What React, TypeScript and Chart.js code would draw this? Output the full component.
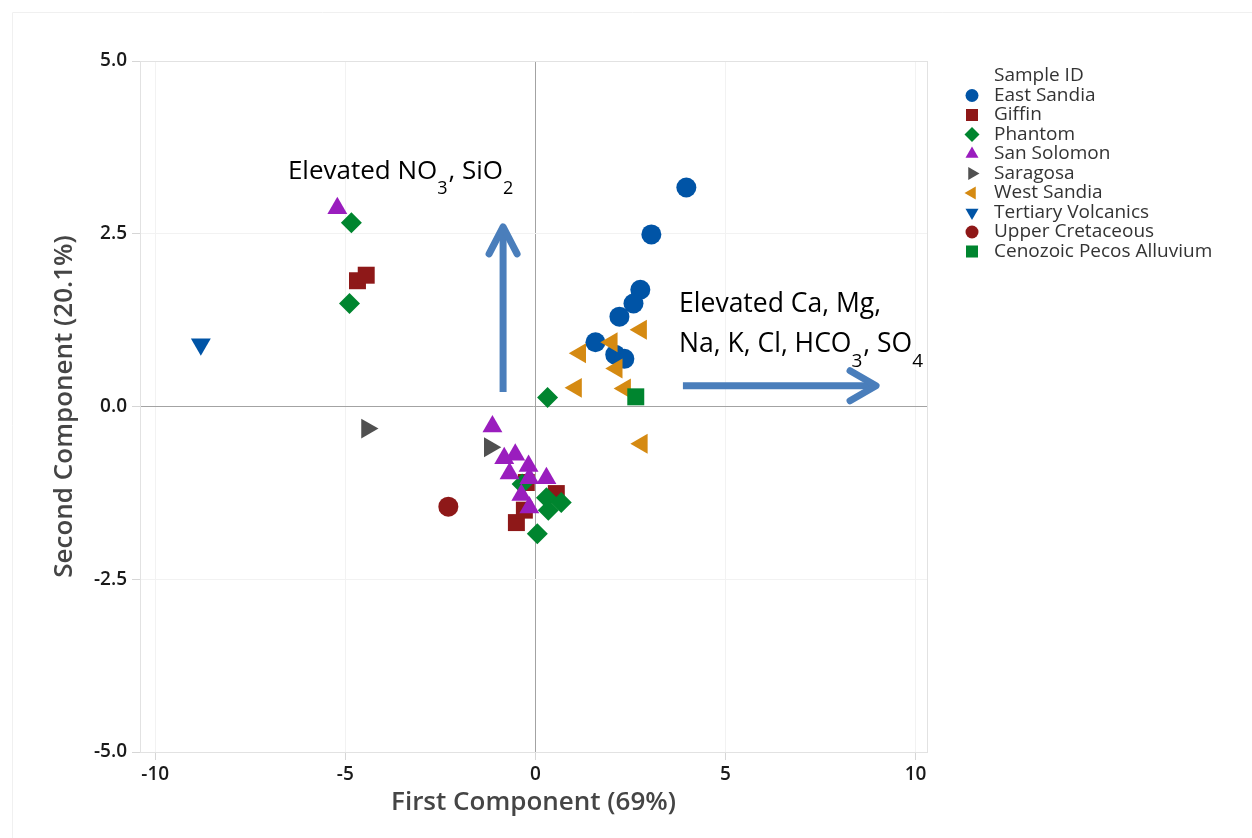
import React, { useEffect, useRef } from 'react';
import { Chart, registerables } from 'chart.js';

Chart.register(...registerables);

// ---------- data ----------
const groupNames = [
  'East Sandia',
  'Giffin',
  'Phantom',
  'San Solomon',
  'Saragosa',
  'West Sandia',
  'Tertiary Volcanics',
  'Upper Cretaceous',
  'Cenozoic Pecos Alluvium',
];

const eastSandiaX = [3.97, 3.05, 2.76, 2.58, 2.21, 1.58, 2.1, 2.34];
const eastSandiaY = [3.17, 2.49, 1.69, 1.49, 1.3, 0.93, 0.75, 0.69];

const giffinX = [-4.68, -4.45, -0.5, -0.29, 0.55, -0.24];
const giffinY = [1.82, 1.9, -1.68, -1.5, -1.26, -1.1];

const phantomX = [-4.84, -4.89, 0.32, -0.35, 0.29, 0.34, 0.68, 0.05];
const phantomY = [2.66, 1.49, 0.13, -1.12, -1.32, -1.5, -1.39, -1.84];

const sanSolomonX = [-5.21, -1.13, -0.53, -0.82, -0.18, -0.68, 0.29, -0.16, -0.37, -0.16];
const sanSolomonY = [2.87, -0.29, -0.7, -0.75, -0.86, -0.97, -1.04, -1.04, -1.28, -1.46];

const saragosaX = [-4.43, -1.2];
const saragosaY = [-0.32, -0.59];

const westSandiaX = [2.78, 2.01, 1.18, 2.14, 1.07, 2.36, 2.8];
const westSandiaY = [1.11, 0.93, 0.77, 0.55, 0.27, 0.26, -0.54];

const tertiaryX = [-8.8];
const tertiaryY = [0.9];

const upperCretX = [-2.29];
const upperCretY = [-1.45];

const cenozoicX = [2.64];
const cenozoicY = [0.14];

const xTicks = [-10, -5, 0, 5, 10];
const yTicks = [-5, -2.5, 0, 2.5, 5];

const xTitle = 'First Component (69%)';
const yTitle = 'Second Component (20.1%)';
const legendTitle = 'Sample ID';

// ---------- styles ----------
const groupX = [eastSandiaX, giffinX, phantomX, sanSolomonX, saragosaX, westSandiaX, tertiaryX, upperCretX, cenozoicX];
const groupY = [eastSandiaY, giffinY, phantomY, sanSolomonY, saragosaY, westSandiaY, tertiaryY, upperCretY, cenozoicY];
const groupColors = ['#0054A6', '#8E1818', '#00852F', '#9A1DBE', '#505050', '#D58A12', '#0054A6', '#8E1818', '#00852F'];
const groupShapes = ['circle', 'rect', 'rectRot', 'triangle', 'triangle', 'triangle', 'triangle', 'circle', 'rect'];
const groupRot = [0, 0, 0, 0, 90, 270, 180, 0, 0];
const groupRadius = [10, 12, 10.5, 11.5, 11.5, 11.5, 11.5, 10, 12];

const FONT = "'Open Sans', 'Noto Sans', sans-serif";

type Part = [string, boolean];

function drawRich(ctx: CanvasRenderingContext2D, parts: Part[], x: number, y: number, size: number) {
  let cx = x;
  ctx.textBaseline = 'alphabetic';
  ctx.textAlign = 'left';
  for (const [t, sub] of parts) {
    ctx.font = sub ? `${Math.round(size * 0.7)}px ${FONT}` : `${size}px ${FONT}`;
    ctx.fillText(t, cx, sub ? y + 15 : y);
    cx += ctx.measureText(t).width + (sub ? 1 : 0);
  }
}

function drawMarker(ctx: CanvasRenderingContext2D, shape: string, rotDeg: number, r: number, x: number, y: number) {
  const rad = (rotDeg * Math.PI) / 180;
  ctx.beginPath();
  if (shape === 'circle') {
    ctx.arc(x, y, r, 0, Math.PI * 2);
  } else if (shape === 'rect') {
    const s = r * Math.SQRT1_2;
    ctx.rect(x - s, y - s, 2 * s, 2 * s);
  } else if (shape === 'rectRot') {
    ctx.moveTo(x, y - r);
    ctx.lineTo(x + r, y);
    ctx.lineTo(x, y + r);
    ctx.lineTo(x - r, y);
    ctx.closePath();
  } else {
    let a = rad;
    ctx.moveTo(x + Math.sin(a) * r, y - Math.cos(a) * r);
    a += (2 * Math.PI) / 3;
    ctx.lineTo(x + Math.sin(a) * r, y - Math.cos(a) * r);
    a += (2 * Math.PI) / 3;
    ctx.lineTo(x + Math.sin(a) * r, y - Math.cos(a) * r);
    ctx.closePath();
  }
  ctx.fill();
}

const annotNO3: Part[] = [['Elevated NO', false], ['3', true], [', SiO', false], ['2', true]];
const annotLine1: Part[] = [['Elevated Ca, Mg,', false]];
const annotLine2: Part[] = [['Na, K, Cl, HCO', false], ['3', true], [', SO', false], ['4', true]];

const decorPlugin = {
  id: 'decor',
  beforeDatasetsDraw(chart: any) {
    const { ctx, chartArea: a } = chart;
    ctx.save();
    ctx.strokeStyle = '#E2E2E2';
    ctx.lineWidth = 1;
    ctx.strokeRect(Math.round(a.left) + 0.5, Math.round(a.top) + 0.5, Math.round(a.right - a.left), Math.round(a.bottom - a.top));
    // outer faint frame
    ctx.strokeStyle = '#F0F0F0';
    ctx.beginPath();
    ctx.moveTo(12.5, 838);
    ctx.lineTo(12.5, 12.5);
    ctx.lineTo(1252, 12.5);
    ctx.stroke();
    ctx.restore();
  },
  afterDraw(chart: any) {
    const { ctx } = chart;
    const xs = chart.scales.x;
    const ys = chart.scales.y;
    ctx.save();
    // arrows
    ctx.strokeStyle = '#4A7EBB';
    ctx.lineWidth = 7;
    // vertical arrow
    const vx = xs.getPixelForValue(-0.85);
    const vb = ys.getPixelForValue(0.21);
    const vt = ys.getPixelForValue(2.6);
    ctx.lineCap = 'butt';
    ctx.beginPath();
    ctx.moveTo(vx, vb);
    ctx.lineTo(vx, vt + 3);
    ctx.stroke();
    ctx.lineCap = 'round';
    ctx.lineJoin = 'round';
    ctx.beginPath();
    ctx.moveTo(vx - 14, vt + 27);
    ctx.lineTo(vx, vt);
    ctx.lineTo(vx + 14, vt + 27);
    ctx.stroke();
    // horizontal arrow
    const hy = ys.getPixelForValue(0.3);
    const hl = xs.getPixelForValue(3.88);
    const hr = xs.getPixelForValue(8.96);
    ctx.lineCap = 'butt';
    ctx.beginPath();
    ctx.moveTo(hl, hy);
    ctx.lineTo(hr - 3, hy);
    ctx.stroke();
    ctx.lineCap = 'round';
    ctx.beginPath();
    ctx.moveTo(hr - 26, hy - 15);
    ctx.lineTo(hr, hy);
    ctx.lineTo(hr - 26, hy + 15);
    ctx.stroke();

    // annotation texts
    ctx.fillStyle = '#000000';
    drawRich(ctx, annotNO3, xs.getPixelForValue(-6.51), ys.getPixelForValue(3.29), 26);
    const tx = xs.getPixelForValue(3.78);
    const ty = ys.getPixelForValue(1.37);
    drawRich(ctx, annotLine1, tx, ty, 26.5);
    drawRich(ctx, annotLine2, tx, ty + 40, 26.5);

    // legend
    const lx = 972;
    const textX = 994;
    let ly = 76;
    ctx.fillStyle = '#333333';
    ctx.font = `19px ${FONT}`;
    ctx.textBaseline = 'middle';
    ctx.textAlign = 'left';
    ctx.fillText(legendTitle, textX, ly);
    chart.data.datasets.forEach((ds: any, i: number) => {
      ly += 19.5;
      ctx.fillStyle = groupColors[i];
      const r = groupShapes[i] === 'rect' ? 8.5 : groupShapes[i] === 'circle' ? 6.5 : 7.5;
      drawMarker(ctx, groupShapes[i], groupRot[i], r, lx, ly);
      ctx.fillStyle = '#333333';
      ctx.fillText(ds.label, textX, ly);
    });
    ctx.restore();
  },
};

export default function App() {
  const ref = useRef<HTMLCanvasElement>(null);
  useEffect(() => {
    const datasets = groupNames.map((name, i) => ({
      label: name,
      data: groupX[i].map((x, j) => ({ x, y: groupY[i][j] })),
      backgroundColor: groupColors[i],
      borderColor: groupColors[i],
      pointStyle: groupShapes[i],
      pointRotation: groupRot[i],
      pointRadius: groupRadius[i],
      pointBorderWidth: 0,
      pointHoverRadius: groupRadius[i],
      order: groupNames.length - i,
    }));
    const tickFont = { family: FONT, size: 19, weight: '600' as any };
    const titleFont = { family: FONT, size: 26, weight: '600' as any };
    const gridColor = (c: any) => (c.tick && c.tick.value === 0 ? '#A3A3A3' : '#F2F2F2');
    const chart = new Chart(ref.current as HTMLCanvasElement, {
      type: 'scatter',
      data: { datasets } as any,
      plugins: [decorPlugin],
      options: {
        responsive: false,
        animation: false,
        devicePixelRatio: 1,
        layout: { padding: { top: 61, right: 325, bottom: 0, left: 0 } },
        plugins: { legend: { display: false }, tooltip: { enabled: false } },
        scales: {
          x: {
            type: 'linear',
            min: -10.4,
            max: 10.3,
            afterBuildTicks: (s: any) => {
              s.ticks = xTicks.map((v) => ({ value: v }));
            },
            afterFit: (s: any) => {
              s.height = 86;
            },
            grid: { color: gridColor, tickLength: 8, tickColor: '#D6D6D6', drawTicks: true },
            border: { display: false },
            ticks: {
              font: tickFont,
              color: '#1A1A1A',
              padding: 3,
              maxRotation: 0,
              autoSkip: false,
              callback: (v: any) => String(v),
            },
            title: {
              display: true,
              text: xTitle,
              font: titleFont,
              color: '#454545',
              padding: { top: 0, bottom: 20 },
            },
          },
          y: {
            type: 'linear',
            min: -5,
            max: 5,
            afterBuildTicks: (s: any) => {
              s.ticks = yTicks.map((v) => ({ value: v }));
            },
            afterFit: (s: any) => {
              s.width = 140;
            },
            grid: { color: gridColor, tickLength: 8, tickColor: '#D6D6D6', drawTicks: true },
            border: { display: false },
            ticks: {
              font: tickFont,
              color: '#1A1A1A',
              padding: 5,
              autoSkip: false,
              callback: (v: any) => Number(v).toFixed(1),
            },
            title: {
              display: true,
              text: yTitle,
              font: titleFont,
              color: '#454545',
              padding: { top: 49, bottom: 0 },
            },
          },
        },
      } as any,
    });
    return () => chart.destroy();
  }, []);
  return (
    <div style={{ position: 'absolute', left: 0, top: 0, width: 1252, height: 838, background: '#ffffff' }}>
      <canvas ref={ref} width={1252} height={838} style={{ display: 'block', width: 1252, height: 838 }} />
    </div>
  );
}
